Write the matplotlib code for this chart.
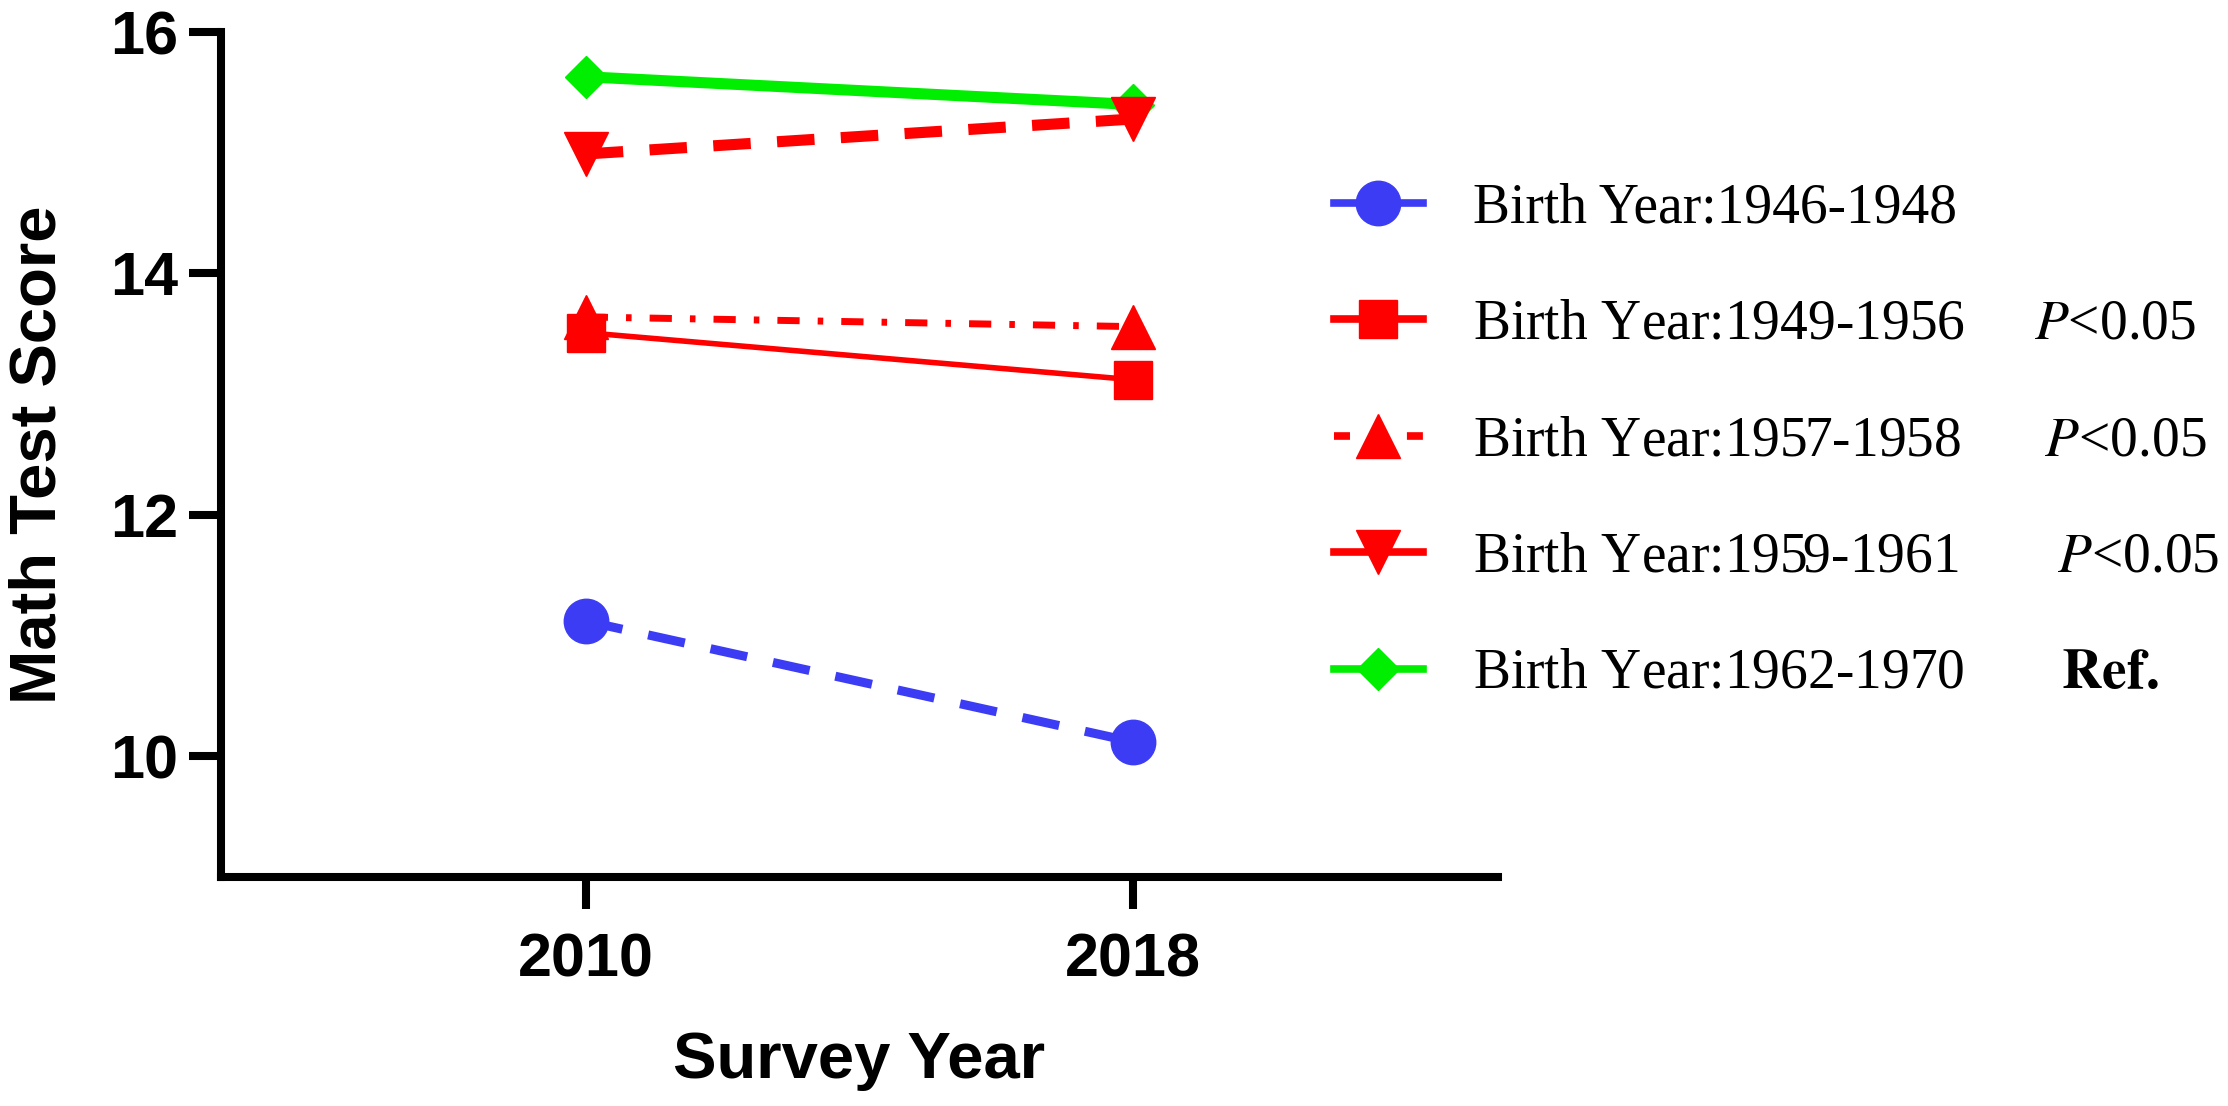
import matplotlib
matplotlib.use("Agg")
import matplotlib.pyplot as plt
from matplotlib.lines import Line2D

# survey years and mean math test scores per birth cohort
years = [2010, 2018]
cohorts = ["1946-1948", "1949-1956", "1957-1958", "1959-1961", "1962-1970"]
score_1946 = [11.12, 10.12]
score_1949 = [13.51, 13.12]
score_1957 = [13.64, 13.56]
score_1959 = [14.99, 15.28]
score_1962 = [15.63, 15.40]
notes = ["", "     $\\mathit{P}$<0.05", "      $\\mathit{P}$<0.05",
         "       $\\mathit{P}$<0.05", "       $\\mathbf{Ref.}$"]

plt.rcParams["lines.scale_dashes"] = False
plt.rcParams["mathtext.fontset"] = "stix"

blue = "#3c3cf5"
red = "#ff0000"
green = "#00ee00"

fig = plt.figure(figsize=(22.28, 11.06), dpi=100)
ax = fig.add_axes([0.0992, 0.207, 0.573, 0.764])

labels = ["Birth Year:" + c + n for c, n in zip(cohorts, notes)]

ax.plot(years, score_1962, color=green, lw=8, marker="D", ms=21.5, zorder=3)
ax.plot(years, score_1957, color=red, lw=5, marker="^", ms=32,
        dashes=(16, 13, 4, 13), zorder=3)
ax.plot(years, score_1949, color=red, lw=4, marker="s", ms=27, zorder=4)
ax.plot(years, score_1959, color=red, lw=8, marker="v", ms=32,
        dashes=(27, 19), zorder=4)
ax.plot(years, score_1946, color=blue, lw=6.5, marker="o", ms=32,
        dashes=(27, 19), zorder=4)

# legend keys drawn as in the original figure
handles = [
    Line2D([], [], color=blue, lw=5.5, marker="o", ms=32),
    Line2D([], [], color=red, lw=5.5, marker="s", ms=27),
    Line2D([], [], color=red, lw=5.5, marker="^", ms=32, dashes=(11.5, 41)),
    Line2D([], [], color=red, lw=5.5, marker="v", ms=32),
    Line2D([], [], color=green, lw=5.5, marker="D", ms=21.5),
]

ax.set_xlim(2004.667, 2023.333)
ax.set_ylim(9, 16)
ax.set_xticks(years)
ax.set_yticks([10, 12, 14, 16])

for s in ["top", "right"]:
    ax.spines[s].set_visible(False)
for s in ["left", "bottom"]:
    ax.spines[s].set_linewidth(5.8)
ax.tick_params(axis="both", length=23, width=5.8, labelsize=44)
ax.tick_params(axis="y", pad=8)
ax.tick_params(axis="x", pad=17)
for t in ax.get_xticklabels() + ax.get_yticklabels():
    t.set_fontfamily("Liberation Sans")
    t.set_fontweight("bold")

ax.set_xlabel("Survey Year", fontsize=47, fontweight="bold",
              family="Liberation Sans", labelpad=30)
ax.set_ylabel("Math Test Score", fontsize=47, fontweight="bold",
              family="Liberation Sans", labelpad=30)

leg = fig.legend(handles=handles, labels=labels, loc="center left",
                 bbox_to_anchor=(0.5987, 0.601), frameon=False,
                 prop={"family": "Liberation Serif", "size": 40},
                 handlelength=1.6, handletextpad=0.9, labelspacing=1.16,
                 borderpad=0, borderaxespad=0)

fig.savefig("out.png", dpi=100)
